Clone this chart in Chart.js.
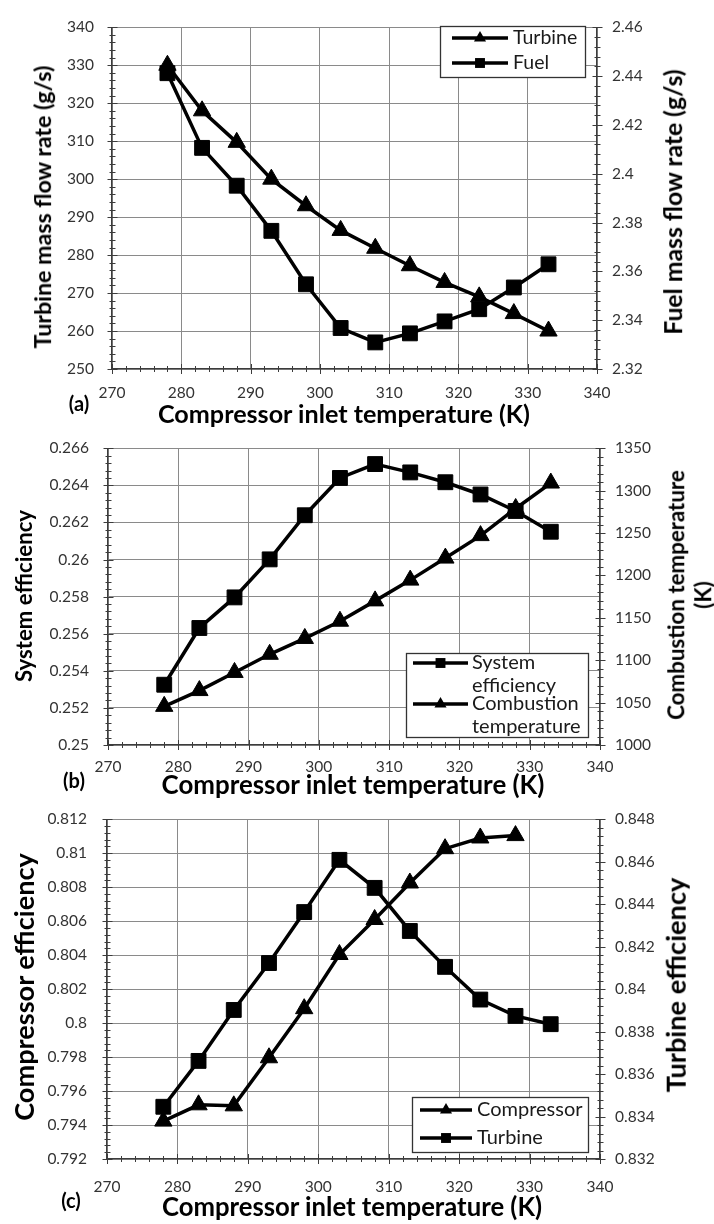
<!DOCTYPE html>
<html><head><meta charset="utf-8">
<script src="https://cdn.jsdelivr.net/npm/chart.js@4.4.1/dist/chart.umd.min.js"></script>
<style>
html,body{margin:0;padding:0;background:#fff;}
#wrap{position:relative;width:714px;height:1224px;overflow:hidden;font-family:Lato,sans-serif;}
canvas{position:absolute;left:0;}
.t{position:absolute;white-space:nowrap;font-weight:bold;color:#000;transform:translate(-50%,-50%);line-height:1.2;font-size:24px;}
.v{transform:translate(-50%,-50%) rotate(-90deg);text-align:center;}
.pl{font-size:20px;}
</style></head><body><div id="wrap">
<canvas id="ca" width="714" height="400" style="top:0px"></canvas>
<canvas id="cb" width="714" height="360" style="top:420px"></canvas>
<canvas id="cc" width="714" height="410" style="top:790px"></canvas>
<div class="t" data-w="372" style="left:344px;top:413px">Compressor inlet temperature (K)</div>
<div class="t" data-w="383" style="left:353px;top:785px">Compressor inlet temperature (K)</div>
<div class="t" data-w="380" style="left:352px;top:1206px">Compressor inlet temperature (K)</div>
<div class="t v" data-w="283" style="left:43px;top:207px">Turbine mass flow rate (g/s)</div>
<div class="t v" data-w="265" style="left:673px;top:202px">Fuel mass flow rate (g/s)</div>
<div class="t v" data-w="172" style="left:24px;top:596px">System efficiency</div>
<div class="t v" data-w="250" style="left:690px;top:595px">Combustion temperature<br>(K)</div>
<div class="t v" data-w="268" style="left:24px;top:987px">Compressor efficiency</div>
<div class="t v" data-w="215" style="left:676px;top:985px">Turbine efficiency</div>
<div class="t pl" style="left:79px;top:403px">(a)</div>
<div class="t pl" style="left:74px;top:780px">(b)</div>
<div class="t pl" style="left:71px;top:1200px">(c)</div>
</div>
<script>
// ---------- data ----------
const inletTemp = [278, 283, 288, 293, 298, 303, 308, 313, 318, 323, 328, 333];
const turbineFlow = [330, 318, 309.7, 300, 293, 286.5, 281.8, 277.2, 272.8, 269, 264.6, 260];
const fuelFlow = [2.4412, 2.4106, 2.3951, 2.3766, 2.3547, 2.3368, 2.3309, 2.3346, 2.3395, 2.3445, 2.3534, 2.3629];
const systemEff = [0.25325, 0.25631, 0.25796, 0.26001, 0.26239, 0.2644, 0.26515, 0.2647, 0.26417, 0.26351, 0.26262, 0.2615];
const combustionTemp = [1045.6, 1064.2, 1085.6, 1107, 1125.7, 1146, 1170, 1194.5, 1220.5, 1247, 1279, 1309];
const compressorTemp = [278, 283, 288, 293, 298, 303, 308, 313, 318, 323, 328];
const compressorEff = [0.79423, 0.79519, 0.79513, 0.79796, 0.80085, 0.80404, 0.8061, 0.80825, 0.81027, 0.8109, 0.81104];
const turbineEff = [0.83446, 0.83662, 0.83902, 0.84123, 0.84363, 0.84609, 0.84477, 0.84274, 0.84105, 0.83951, 0.83874, 0.83835];

// ---------- tick labels ----------
const xTicks = [270, 280, 290, 300, 310, 320, 330, 340];
const aLeftTicks = [250, 260, 270, 280, 290, 300, 310, 320, 330, 340];
const aRightTicks = [2.32, 2.34, 2.36, 2.38, 2.4, 2.42, 2.44, 2.46];
const bLeftTicks = [0.25, 0.252, 0.254, 0.256, 0.258, 0.26, 0.262, 0.264, 0.266];
const bRightTicks = [1000, 1050, 1100, 1150, 1200, 1250, 1300, 1350];
const cLeftTicks = [0.792, 0.794, 0.796, 0.798, 0.8, 0.802, 0.804, 0.806, 0.808, 0.81, 0.812];
const cRightTicks = [0.832, 0.834, 0.836, 0.838, 0.84, 0.842, 0.844, 0.846, 0.848];

// ---------- legend labels ----------
const legendA = [['Turbine'], ['Fuel']];
const legendB = [['System', 'efficiency'], ['Combustion', 'temperature']];
const legendC = [['Compressor'], ['Turbine']];

// fit HTML titles to their measured widths in the reference
document.querySelectorAll('.t[data-w]').forEach(el => {
  const base = parseFloat(getComputedStyle(el).fontSize);
  const w = el.offsetWidth;
  el.style.fontSize = (base * parseFloat(el.dataset.w) / w).toFixed(2) + 'px';
});

const pts = (xs, ys) => xs.map((x, i) => ({x: x, y: ys[i]}));

const FONT = 'Lato';
const TICK_FONT = {family: FONT, size: 15.5};
const TICK_COLOR = '#333';
const GRID = '#8a8a8a';
const AXIS = '#3c3c3c';

function tickSetter(arr) { return s => { s.ticks = arr.map(v => ({value: v})); }; }

// tick marks crossing the axes (major + minor)
const axisMarks = {
  id: 'axisMarks',
  afterDatasetsDraw(chart, args, o) {
    const ctx = chart.ctx, ca = chart.chartArea;
    ctx.save();
    ctx.strokeStyle = AXIS; ctx.lineWidth = 1;
    const mark = (s, v, len) => {
      const p = Math.round(s.getPixelForValue(v)) + 0.5;
      ctx.beginPath();
      if (s.isHorizontal()) { ctx.moveTo(p, ca.bottom - len); ctx.lineTo(p, ca.bottom + len); }
      else {
        const x = Math.round(s.position === 'left' ? ca.left : ca.right) + 0.5;
        ctx.moveTo(x - len, p); ctx.lineTo(x + len, p);
      }
      ctx.stroke();
    };
    Object.keys(o.minor).forEach(id => {
      const s = chart.scales[id], n = o.minor[id];
      const vals = s.ticks.map(t => t.value);
      vals.forEach((v, i) => {
        mark(s, v, 5);
        if (i < vals.length - 1) for (let k = 1; k < n; k++) mark(s, v + (vals[i + 1] - v) * k / n, 3);
      });
    });
    ctx.restore();
  }
};

function drawMarker(ctx, style, x, y, r) {
  ctx.beginPath();
  if (style === 'rect') { const h = r * Math.SQRT1_2; ctx.rect(x - h, y - h, 2 * h, 2 * h); }
  else {
    ctx.moveTo(x, y - r);
    ctx.lineTo(x + r * Math.sin(2 * Math.PI / 3), y - r * Math.cos(2 * Math.PI / 3));
    ctx.lineTo(x + r * Math.sin(4 * Math.PI / 3), y - r * Math.cos(4 * Math.PI / 3));
    ctx.closePath();
  }
  ctx.fill();
}

const lineLegend = {
  id: 'lineLegend',
  afterDraw(chart, args, o) {
    const ctx = chart.ctx;
    ctx.save();
    ctx.fillStyle = '#fff';
    ctx.fillRect(o.x, o.y, o.w, o.h);
    ctx.strokeStyle = '#333'; ctx.lineWidth = 1.3;
    ctx.strokeRect(o.x + 0.5, o.y + 0.5, o.w, o.h);
    o.items.forEach((it, i) => {
      const ds = chart.data.datasets[i];
      ctx.strokeStyle = ds.borderColor; ctx.lineWidth = ds.borderWidth;
      ctx.beginPath(); ctx.moveTo(o.x1, it.y); ctx.lineTo(o.x2, it.y); ctx.stroke();
      ctx.fillStyle = ds.pointBackgroundColor;
      drawMarker(ctx, ds.pointStyle, (o.x1 + o.x2) / 2, it.y, o.r);
      ctx.fillStyle = '#1a1a1a';
      ctx.font = o.fontSize + 'px ' + FONT;
      ctx.textBaseline = 'middle'; ctx.textAlign = 'left';
      o.labels[i].forEach((t, j) => ctx.fillText(t, o.tx, it.y + j * o.gap));
    });
    ctx.restore();
  }
};

function series(label, data, style, axis) {
  return {
    label: label, data: data, yAxisID: axis,
    borderColor: '#000', backgroundColor: '#000', borderWidth: 3.5,
    pointStyle: style, pointRadius: style === 'rect' ? 10.5 : 10, pointHoverRadius: style === 'rect' ? 10.5 : 10,
    pointBackgroundColor: '#000', pointBorderColor: '#000', pointBorderWidth: 1,
    tension: 0, clip: false
  };
}

function makeChart(id, cfg) {
  const yAxis = (pos, min, max, ticks, width, pad, grid) => ({
    type: 'linear', position: pos, min: min, max: max,
    afterBuildTicks: tickSetter(ticks),
    afterFit: s => { s.width = width; },
    grid: {display: grid, drawOnChartArea: grid, drawTicks: false, color: GRID, lineWidth: 1},
    border: {display: true, color: AXIS, width: 1.3},
    ticks: {font: TICK_FONT, color: TICK_COLOR, padding: pad, callback: v => String(v)}
  });
  return new Chart(document.getElementById(id), {
    type: 'line',
    data: {datasets: cfg.datasets},
    options: {
      responsive: false, animation: false, events: [],
      layout: {padding: {top: cfg.top, left: 0, right: 0, bottom: 0}},
      plugins: {legend: {display: false}, tooltip: {enabled: false},
        axisMarks: {minor: {x: 5, y: 5, y1: 5}},
        lineLegend: cfg.legend},
      scales: {
        x: {type: 'linear', min: 270, max: 340,
          afterBuildTicks: tickSetter(xTicks),
          afterFit: s => { s.height = cfg.xh; },
          grid: {color: GRID, lineWidth: 1, drawTicks: false},
          border: {display: true, color: AXIS, width: 1.3},
          ticks: {font: TICK_FONT, color: TICK_COLOR, padding: cfg.xpad, maxRotation: 0, autoSkip: false, callback: v => String(v)}},
        y: yAxis('left', cfg.yl[0], cfg.yl[1], cfg.yl[2], cfg.lw, cfg.lpad, true),
        y1: yAxis('right', cfg.yr[0], cfg.yr[1], cfg.yr[2], cfg.rw, cfg.rpad, false)
      }
    },
    plugins: [axisMarks, lineLegend]
  });
}

// (a)
makeChart('ca', {
  top: 17, xh: 400 - 369, xpad: 15, lw: 112, rw: 714 - 597, lpad: 18, rpad: 15,
  yl: [250, 340, aLeftTicks], yr: [2.32, 2.46, aRightTicks],
  datasets: [series('Turbine', pts(inletTemp, turbineFlow), 'triangle', 'y'),
             series('Fuel', pts(inletTemp, fuelFlow), 'rect', 'y1')],
  legend: {x: 440, y: 26, w: 145, h: 51, x1: 452, x2: 508, r: 7, tx: 513, fontSize: 19.5, gap: 0,
           labels: legendA, items: [{y: 38}, {y: 63}]}
});
// (b)
makeChart('cb', {
  top: 25, xh: 360 - 325, xpad: 13, lw: 108, rw: 114, lpad: 19, rpad: 15,
  yl: [0.25, 0.266, bLeftTicks], yr: [1000, 1350, bRightTicks],
  datasets: [series('System efficiency', pts(inletTemp, systemEff), 'rect', 'y'),
             series('Combustion temperature', pts(inletTemp, combustionTemp), 'triangle', 'y1')],
  legend: {x: 406, y: 233, w: 182, h: 84, x1: 413, x2: 468, r: 7, tx: 472, fontSize: 20, gap: 23,
           labels: legendB, items: [{y: 243}, {y: 284}]}
});
// (c)
makeChart('cc', {
  top: 23, xh: 410 - 369, xpad: 19, lw: 107, rw: 114, lpad: 20, rpad: 15,
  yl: [0.792, 0.812, cLeftTicks], yr: [0.832, 0.848, cRightTicks],
  datasets: [series('Compressor', pts(compressorTemp, compressorEff), 'triangle', 'y'),
             series('Turbine', pts(inletTemp, turbineEff), 'rect', 'y1')],
  legend: {x: 412, y: 307, w: 176, h: 55, x1: 420, x2: 472, r: 7, tx: 477, fontSize: 20, gap: 0,
           labels: legendC, items: [{y: 320}, {y: 348}]}
});
</script>
</body></html>
